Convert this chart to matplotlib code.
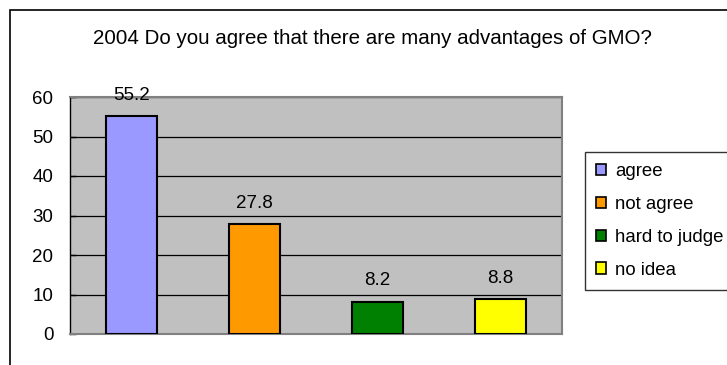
import matplotlib
matplotlib.use('Agg')
import matplotlib.pyplot as plt
from matplotlib.patches import Rectangle, Patch

plt.rcParams['font.family'] = ['Liberation Sans', 'DejaVu Sans']

categories = ['agree', 'not agree', 'hard to judge', 'no idea']
values = [55.2, 27.8, 8.2, 8.8]
colors = ['#9999FF', '#FF9900', '#008000', '#FFFF00']
yticks = [0, 10, 20, 30, 40, 50, 60]
title = '2004 Do you agree that there are many advantages of GMO?'

fig = plt.figure(figsize=(7.27, 3.65), dpi=100)
fig.patch.set_facecolor('white')

# outer chart frame (runs off the right and bottom edges)
fig.patches.append(Rectangle((10/727, -0.1), 1.2, 1 - 10/365 + 0.1,
                             transform=fig.transFigure, fill=False,
                             edgecolor='black', linewidth=1.2))

ax = fig.add_axes([70/727, 31/365, 492/727, 237/365])
ax.set_facecolor('#C0C0C0')

x = range(len(values))
ax.bar(x, values, width=0.41, color=colors, edgecolor='black', linewidth=1.5, zorder=3)
for i, v in enumerate(values):
    ax.annotate(f'{v}', (i, v), xytext=(0, 15), textcoords='offset points',
                ha='center', va='center', fontsize=13.5, zorder=4)

ax.set_xlim(-0.5, len(values) - 0.5)
ax.set_ylim(0, 60)
ax.set_yticks(yticks)
ax.set_yticklabels([str(t) for t in yticks], fontsize=13.5)
ax.set_xticks([])
ax.yaxis.grid(True, color='black', linewidth=0.9, zorder=1)
ax.tick_params(axis='y', direction='in', length=4, width=1, color='black', pad=12)

for side in ['top', 'right', 'bottom']:
    ax.spines[side].set_color('#808080')
    ax.spines[side].set_linewidth(1.5)
ax.spines['left'].set_color('black')
ax.spines['left'].set_linewidth(1)

fig.text(372/727, 1 - 38/365, title, ha='center', va='center', fontsize=14.8)

handles = [Patch(facecolor=c, edgecolor='black', linewidth=1.2) for c in colors]
leg = fig.legend(handles, categories, loc='upper left',
                 bbox_to_anchor=(585/727, 1 - 152/365), fontsize=13.4,
                 frameon=True, fancybox=False, edgecolor='black',
                 handlelength=0.55, handleheight=0.55, handletextpad=0.45,
                 labelspacing=0.85, borderpad=0.6, borderaxespad=0)
leg.get_frame().set_linewidth(1)

fig.savefig('out.png', dpi=100)
